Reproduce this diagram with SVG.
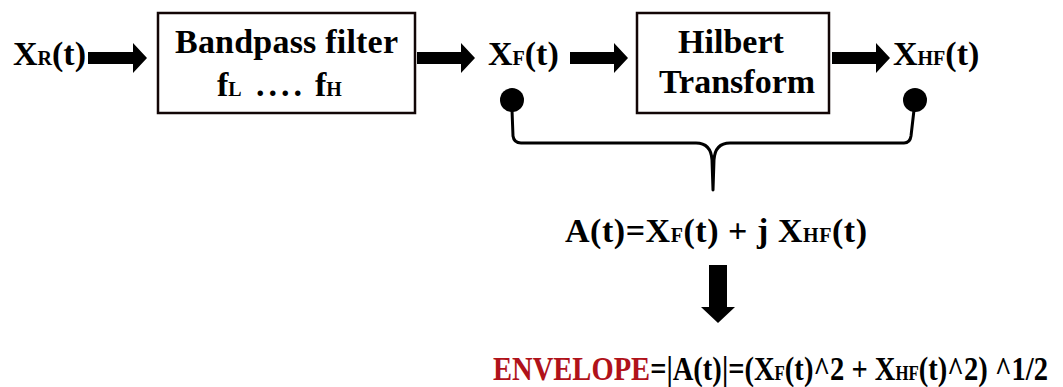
<svg xmlns="http://www.w3.org/2000/svg" width="1063" height="387" viewBox="0 0 1063 387">
  <style>
    .lbl { font-family: "Liberation Serif", "Times New Roman", serif; font-weight: bold; font-size: 34px; fill: #000; }
    .sub { font-size: 20px; }
    .red { fill: #b0121a; }
    .box { fill: #fff; stroke: #120606; stroke-width: 2.5; }
    .arrow { fill: #000; }
    .brace { fill: none; stroke: #000; stroke-width: 3; stroke-linejoin: round; stroke-linecap: round; }
  </style>
  <rect width="1063" height="387" fill="#fff"/>

  <!-- input signal -->
  <g id="input">
    <text class="lbl" x="13" y="65">X<tspan class="sub">R</tspan>(t)</text>
  </g>

  <!-- bandpass filter block -->
  <g id="bandpass">
    <rect class="box" x="158" y="13" width="257" height="100"/>
    <text class="lbl" x="286.5" y="53" text-anchor="middle" textLength="223">Bandpass filter</text>
    <text class="lbl" y="96"><tspan x="217">f</tspan><tspan class="sub">L</tspan><tspan x="256" letter-spacing="4">....</tspan><tspan x="315">f</tspan><tspan class="sub">H</tspan></text>
  </g>

  <!-- filtered signal -->
  <g id="filtered">
    <text class="lbl" x="488" y="65">X<tspan class="sub">F</tspan>(t)</text>
    <circle cx="512" cy="100" r="12" fill="#000"/>
  </g>

  <!-- Hilbert transform block -->
  <g id="hilbert">
    <rect class="box" x="637" y="13" width="192" height="100"/>
    <text class="lbl" x="731" y="53" text-anchor="middle" font-size="36">Hilbert</text>
    <text class="lbl" x="737" y="93" text-anchor="middle">Transform</text>
  </g>

  <!-- transformed signal -->
  <g id="transformed">
    <text class="lbl" x="893" y="65">X<tspan class="sub">HF</tspan>(t)</text>
    <circle cx="915" cy="100" r="12" fill="#000"/>
  </g>

  <!-- analytic signal -->
  <g id="analytic">
    <text class="lbl" x="565" y="242" textLength="302">A(t)=X<tspan class="sub">F</tspan>(t) + j X<tspan class="sub">HF</tspan>(t)</text>
  </g>

  <!-- envelope -->
  <g id="envelope">
    <text class="lbl" x="493" y="380" textLength="555" lengthAdjust="spacingAndGlyphs"><tspan class="red">ENVELOPE</tspan>=|A(t)|=(X<tspan class="sub">F</tspan>(t)^2 + X<tspan class="sub">HF</tspan>(t)^2) ^1/2</text>
  </g>

  <!-- connectors -->
  <g id="connectors">
    <polygon class="arrow" points="88,52 133,52 133,43 147,58 133,73 133,64 88,64"/>
    <polygon class="arrow" points="417,52 461,52 461,43 475,58 461,73 461,64 417,64"/>
    <polygon class="arrow" points="570,52 614,52 614,43 628,58 614,73 614,64 570,64"/>
    <polygon class="arrow" points="832,52 876,52 876,43 890,58 876,73 876,64 832,64"/>
    <path class="brace" d="M512,110 L513,136 Q514,143 521,143 L696,143 Q711,143 712,160 L713,190 M713,190 L714,160 Q715,143 730,143 L904,143 Q910,143 911,136 L914,110"/>
    <polygon class="arrow" points="709,265 727,265 727,307 735,307 718,323 701,307 709,307"/>
  </g>
</svg>
